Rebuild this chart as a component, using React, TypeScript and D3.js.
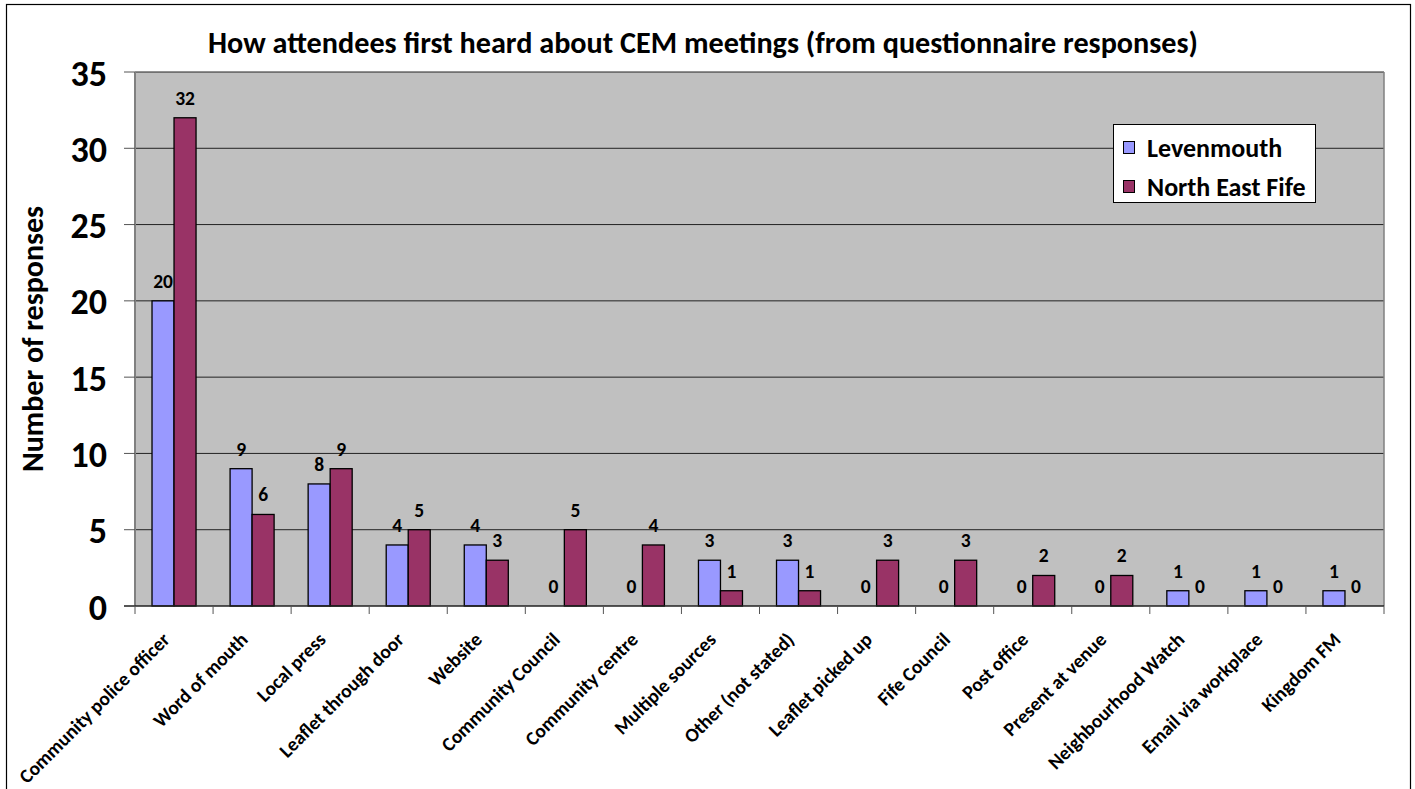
import React from "react";
import * as d3 from "d3";

const categories = [
  "Community police officer",
  "Word of mouth",
  "Local press",
  "Leaflet through door",
  "Website",
  "Community Council",
  "Community centre",
  "Multiple sources",
  "Other (not stated)",
  "Leaflet picked up",
  "Fife Council",
  "Post office",
  "Present at venue",
  "Neighbourhood Watch",
  "Email via workplace",
  "Kingdom FM",
];
const levenmouth = [20, 9, 8, 4, 4, 0, 0, 3, 3, 0, 0, 0, 0, 1, 1, 1];
const northEastFife = [32, 6, 9, 5, 3, 5, 4, 1, 1, 3, 3, 2, 2, 0, 0, 0];
const seriesNames = ["Levenmouth", "North East Fife"];
const seriesColors = ["#9999FF", "#993366"];
const yTicks = [0, 5, 10, 15, 20, 25, 30, 35];
const title = "How attendees first heard about CEM meetings (from questionnaire responses)";
const yTitle = "Number of responses";

const W = 1415;
const H = 789;
const FONT = "Carlito, Calibri, Lato, 'Open Sans', sans-serif";

export default function App() {
  const left = 135, right = 1384, top = 72, bottom = 606;
  const x = d3.scaleBand<string>().domain(categories).range([left, right]).paddingInner(0).paddingOuter(0);
  const y = d3.scaleLinear().domain([0, 35]).range([bottom, top]);
  const bw = x.bandwidth();
  const barW = bw * 0.282;
  const groupOff = (bw - 2 * barW) / 2;
  const series = [levenmouth, northEastFife];

  return (
    <svg width={W} height={H} style={{ position: "absolute", left: 0, top: 0, fontFamily: FONT }}>
      <rect x={0} y={0} width={W} height={H} fill="#fff" />
      <rect x={6.5} y={4.5} width={1404} height={H} fill="#fff" stroke="#000" strokeWidth={1.2} />
      <text x={703} y={53} textAnchor="middle" fontSize={30.2} fontWeight="bold">{title}</text>
      <rect x={left} y={top} width={right - left} height={bottom - top} fill="#C0C0C0" />
      {yTicks.filter(t => t > 0).map(t => (
        <line key={"g" + t} x1={left} x2={right} y1={y(t)} y2={y(t)} stroke="#222" strokeWidth={1} />
      ))}
      <line x1={right} x2={right} y1={top} y2={bottom} stroke="#808080" strokeWidth={1.5} />
      {series.map((vals, si) =>
        categories.map((c, i) => {
          const v = vals[i];
          const bx = (x(c) as number) + groupOff + si * barW;
          return (
            <g key={si + "-" + i}>
              {v > 0 && (
                <rect x={bx} y={y(v)} width={barW} height={y(0) - y(v)} fill={seriesColors[si]} stroke="#000" strokeWidth={1.3} />
              )}
              <text x={bx + barW / 2} y={y(v) - 13} textAnchor="middle" fontSize={19.5} fontWeight="bold">{v}</text>
            </g>
          );
        })
      )}
      {/* axes */}
      <line x1={left} x2={left} y1={top} y2={bottom} stroke="#808080" strokeWidth={2} />
      <line x1={left - 11} x2={right} y1={bottom} y2={bottom} stroke="#222" strokeWidth={1.5} />
      {yTicks.map(t => (
        <g key={"t" + t}>
          <line x1={left - 11} x2={left} y1={y(t)} y2={y(t)} stroke="#555" strokeWidth={1} />
          <text x={107} y={y(t) + 13.5} textAnchor="end" fontSize={36} fontWeight="bold">{t}</text>
        </g>
      ))}
      {categories.map((c, i) => (
        <line key={"xt" + i} x1={x(c) as number} x2={x(c) as number} y1={bottom} y2={bottom + 8} stroke="#555" strokeWidth={1} />
      ))}
      <line x1={right} x2={right} y1={bottom} y2={bottom + 8} stroke="#555" strokeWidth={1} />
      {categories.map((c, i) => {
        const cx = (x(c) as number) + bw / 2 - 8;
        const cy = bottom + 30;
        return (
          <text key={"xl" + i} transform={`translate(${cx},${cy}) rotate(-45)`} textAnchor="end" fontSize={19.5} fontWeight="bold" dy="0.35em">{c}</text>
        );
      })}
      <text transform={`translate(43,339) rotate(-90)`} textAnchor="middle" fontSize={30} fontWeight="bold">{yTitle}</text>
      {/* legend */}
      <rect x={1113.5} y={124.5} width={202} height={78} fill="#fff" stroke="#000" strokeWidth={1} />
      {seriesNames.map((n, i) => (
        <g key={"lg" + i}>
          <rect x={1123.5} y={141.5 + i * 39} width={11} height={12} fill={seriesColors[i]} stroke="#000" strokeWidth={1} />
          <text x={1147} y={157 + i * 39} fontSize={26} fontWeight="bold">{n}</text>
        </g>
      ))}
    </svg>
  );
}
